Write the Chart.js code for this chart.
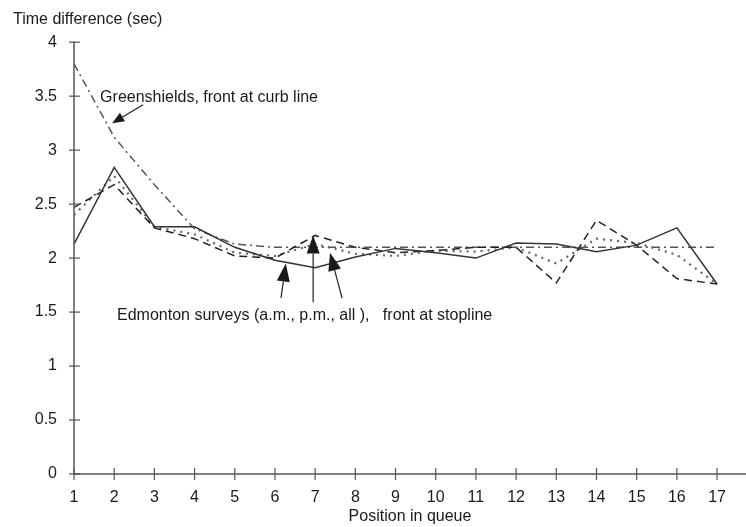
<!DOCTYPE html>
<html>
<head>
<meta charset="utf-8">
<script src="https://cdn.jsdelivr.net/npm/chart.js@4.4.1/dist/chart.umd.min.js"></script>
<style>
html,body{margin:0;padding:0;background:#fff}
#wrap{width:746px;height:527px}
</style>
</head>
<body>
<div id="wrap"><canvas id="c" width="746" height="527"></canvas></div>
<script>
// queue positions and headway values (sec)
const positions=[1,2,3,4,5,6,7,8,9,10,11,12,13,14,15,16,17]
const yTicks=[0,0.5,1,1.5,2,2.5,3,3.5,4]
const edmontonAM=[2.13,2.84,2.29,2.29,2.1,1.98,1.91,2.01,2.09,2.05,2.0,2.14,2.13,2.06,2.12,2.28,1.76]
const edmontonPM=[2.47,2.68,2.28,2.18,2.02,2.0,2.21,2.1,2.05,2.07,2.1,2.1,1.77,2.35,2.12,1.81,1.76]
const edmontonAll=[2.4,2.76,2.29,2.22,2.05,2.02,2.13,2.04,2.02,2.07,2.06,2.1,1.95,2.18,2.14,2.03,1.76]
const greenshields=[3.8,3.12,2.68,2.27,2.13,2.1,2.1,2.1,2.1,2.1,2.1,2.1,2.1,2.1,2.1,2.1,2.1]

const FONT="'Liberation Sans', Arial, sans-serif"
const FS=16

function pts(arr){return arr.map((v,i)=>({x:positions[i],y:v}))}

// notes with arrows, in data units
const notes=[
{text:"Greenshields, front at curb line",x:1.65,y:3.49},
{text:"Edmonton surveys (a.m., p.m., all ),   front at stopline",x:2.07,y:1.47}
]
const arrows=[
{from:[2.72,3.42],to:[1.95,3.25],head:12,w:10},
{from:[6.15,1.63],to:[6.27,1.95],head:18,w:13},
{from:[6.95,1.59],to:[6.95,2.21],head:18,w:13},
{from:[7.67,1.63],to:[7.37,2.05],head:18,w:13}
]

const axisPlugin={
id:"axisCross",
afterDatasetsDraw(chart){
const ctx=chart.ctx
const xs=chart.scales.x, ys=chart.scales.y
const x0=xs.getPixelForValue(xs.min), y0=ys.getPixelForValue(0)
ctx.save()
ctx.strokeStyle="#555"
ctx.lineWidth=1.5
ctx.beginPath()
ctx.moveTo(x0,ys.getPixelForValue(4)-1)
ctx.lineTo(x0,y0)
ctx.lineTo(xs.getPixelForValue(xs.max),y0)
ctx.stroke()
ctx.lineWidth=1.2
yTicks.forEach(v=>{
let p=ys.getPixelForValue(v)
ctx.beginPath();ctx.moveTo(x0-5,p);ctx.lineTo(x0+6,p);ctx.stroke()
})
positions.forEach(v=>{
let p=xs.getPixelForValue(v)
ctx.beginPath();ctx.moveTo(p,y0-6);ctx.lineTo(p,y0+6);ctx.stroke()
})

// notes
ctx.fillStyle="#1a1a1a"
ctx.font=FS+"px "+FONT
ctx.textBaseline="middle"
notes.forEach(n=>{
ctx.fillText(n.text,xs.getPixelForValue(n.x),ys.getPixelForValue(n.y))
})
ctx.strokeStyle="#222"
ctx.lineWidth=1.2
arrows.forEach(a=>{
let fx=xs.getPixelForValue(a.from[0]),fy=ys.getPixelForValue(a.from[1])
let tx=xs.getPixelForValue(a.to[0]),ty=ys.getPixelForValue(a.to[1])
let ang=Math.atan2(ty-fy,tx-fx)
let bx=tx-Math.cos(ang)*a.head, by=ty-Math.sin(ang)*a.head
ctx.beginPath();ctx.moveTo(fx,fy);ctx.lineTo(bx,by);ctx.stroke()
ctx.beginPath()
ctx.moveTo(tx,ty)
ctx.lineTo(bx+Math.sin(ang)*a.w/2,by-Math.cos(ang)*a.w/2)
ctx.lineTo(bx-Math.sin(ang)*a.w/2,by+Math.cos(ang)*a.w/2)
ctx.closePath()
ctx.fill()
})
ctx.restore()
}
}

new Chart(document.getElementById("c"),{
type:"line",
data:{
datasets:[
{label:"a.m.",data:pts(edmontonAM),borderColor:"#333",borderWidth:1.5},
{label:"p.m.",data:pts(edmontonPM),borderColor:"#222",borderWidth:1.5,borderDash:[8,5]},
{label:"all",data:pts(edmontonAll),borderColor:"#666",borderWidth:2.2,borderDash:[2,5]},
{label:"Greenshields",data:pts(greenshields),borderColor:"#555",borderWidth:1.5,borderDash:[8,4,2,4]}
]
},
options:{
responsive:false,
animation:false,
devicePixelRatio:1,
layout:{padding:{left:13,right:0,top:0,bottom:0}},
elements:{point:{radius:0},line:{tension:0}},
plugins:{
legend:{display:false},
tooltip:{enabled:false},
title:{display:true,text:"Time difference (sec)",align:"start",color:"#1a1a1a",
font:{family:FONT,size:FS,weight:"normal"},padding:{top:10,bottom:13}}
},
scales:{
x:{
type:"linear",min:1,max:17.72,
afterBuildTicks:s=>{s.ticks=positions.map(v=>({value:v}))},
afterFit:s=>{s.height=53},
grid:{display:false,drawTicks:false},
border:{display:false},
ticks:{color:"#1a1a1a",font:{family:FONT,size:FS},padding:14,maxRotation:0,autoSkip:false},
title:{display:true,text:"Position in queue",color:"#1a1a1a",font:{family:FONT,size:FS},padding:{top:0,bottom:1}}
},
y:{
min:0,max:4,
afterBuildTicks:s=>{s.ticks=yTicks.map(v=>({value:v}))},
afterFit:s=>{s.width=61},
grid:{display:false,drawTicks:false},
border:{display:false},
ticks:{color:"#1a1a1a",font:{family:FONT,size:FS},padding:17,callback:v=>String(v)}
}
}
},
plugins:[axisPlugin]
})
</script>
</body>
</html>
